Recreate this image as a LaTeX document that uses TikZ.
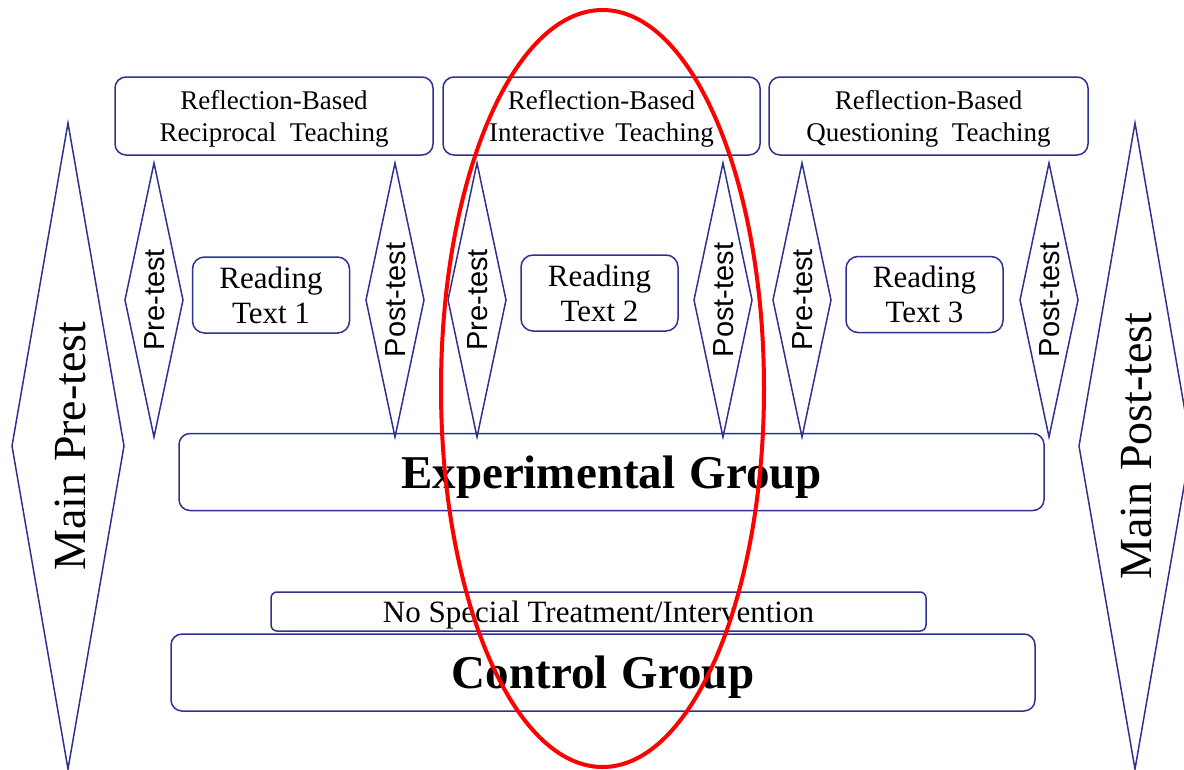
\documentclass[tikz,border=0pt]{standalone}
\usepackage{fontspec}
\setmainfont{Liberation Serif}
\newfontfamily\arialfont{Liberation Sans}
\definecolor{frameblue}{RGB}{46,49,146}
\definecolor{markred}{RGB}{255,0,0}
\begin{document}
\begin{tikzpicture}[x=1pt,y=-1pt,
  box/.style={draw=frameblue, line width=1.5pt, rounded corners=11pt,
    inner sep=0pt, align=center, text depth=0pt},
  headbox/.style={box, minimum height=78pt,
    font=\fontsize{27}{32}\selectfont},
  readbox/.style={box, minimum width=157pt, minimum height=76pt,
    rounded corners=12pt, font=\fontsize{31}{35}\selectfont},
  groupbox/.style={box, minimum height=77pt,
    font=\fontsize{47}{52}\selectfont\bfseries},
  rhomb/.style={draw=frameblue, line width=1.5pt, line join=miter},
  testlabel/.style={rotate=90, inner sep=0pt,
    font=\arialfont\fontsize{29}{32}\selectfont},
  mainlabel/.style={rotate=90, inner sep=0pt,
    font=\fontsize{46}{50}\selectfont},
  ring/.style={draw=markred, line width=4pt}
]
\useasboundingbox (0,0) rectangle (1184,769);
\clip (0,0) rectangle (1184,769);

% teaching methods
\node[headbox, minimum width=318pt] (t1) at (274,116)
  {Reflection-Based\\Reciprocal\hspace{0.5em}Teaching};
\node[headbox, minimum width=317pt] (t2) at (601.5,116)
  {Reflection-Based\\Interactive\hspace{0.4em}Teaching};
\node[headbox, minimum width=319pt] (t3) at (928.5,116)
  {Reflection-Based\\Questioning\hspace{0.5em}Teaching};

% reading texts
\node[readbox] (r1) at (271,295) {Reading\\Text 1};
\node[readbox] (r2) at (599.5,293) {Reading\\Text 2};
\node[readbox] (r3) at (924.5,294.5) {Reading\\Text 3};

% small pre/post test diamonds
\foreach \cx/\lab/\nm in {154/Pre-test/p1, 395/Post-test/q1,
                          477/Pre-test/p2, 723/Post-test/q2,
                          802/Pre-test/p3, 1049/Post-test/q3}{
  \draw[rhomb] (\cx,163) -- (\cx+29,300) -- (\cx,437) -- (\cx-29,300) -- cycle;
  \node[testlabel] (\nm) at (\cx+1,300) {\lab};
}

% main tests
\draw[rhomb] (68,123) -- (124,446) -- (68,769) -- (12,446) -- cycle;
\node[mainlabel] (mpre) at (70,446) {Main Pre-test};
\draw[rhomb] (1135,123) -- (1191,446) -- (1135,769) -- (1079,446) -- cycle;
\node[mainlabel] (mpost) at (1136,446) {Main Post-test};

% groups
\node[groupbox, minimum width=865pt] (eg) at (611.5,472) {Experimental\hspace{0.3em}Group};
\node[box, minimum width=655pt, minimum height=39pt, rounded corners=6pt,
  font=\fontsize{31}{34}\selectfont] (ns) at (598.5,611.5)
  {No Special Treatment/Intervention};
\node[groupbox, minimum width=864pt] (cg) at (603,672.5) {Control\hspace{0.3em}Group};

% highlight ring
\draw[ring] (602.5,388.5) ellipse [x radius=161.5pt, y radius=378.5pt];
\end{tikzpicture}
\end{document}
